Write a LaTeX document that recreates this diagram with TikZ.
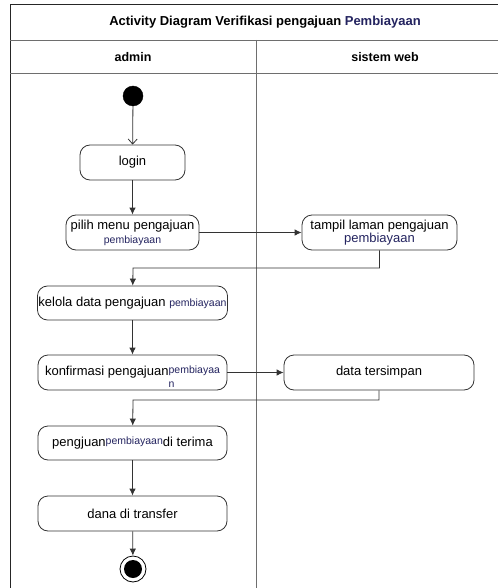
\documentclass[tikz,border=0pt]{standalone}
\usepackage{fontspec}
\setmainfont{Liberation Sans}
\usetikzlibrary{arrows.meta}
\usetikzlibrary{calc}

\definecolor{navytext}{RGB}{35,35,95}
\definecolor{lanegray}{RGB}{110,110,110}
\newcommand{\smalltxt}[1]{{\fontsize{10.5}{12}\selectfont\color{navytext}#1}}

\begin{document}
\begin{tikzpicture}
	[
	x=1pt, y=-1pt,
	> = {Latex[length=7pt,width=6.5pt]},
	every node/.style = {font=\fontsize{13}{15}\selectfont},
	act/.style = {draw=black!80, line width=0.8pt, rounded corners=10pt, minimum height=35pt, inner sep=1pt, align=center},
	startdot/.style = {draw,fill,circle,minimum size=20pt,inner sep=0pt},
	enddot/.style = {draw,line width=0.8pt,circle,minimum size=26pt,inner sep=0pt,
		path picture={\fill (path picture bounding box.center) circle (9pt);}},
	flow/.style = {->, draw=black!80, line width=0.8pt}
	]
	\useasboundingbox (0,0) rectangle (498,588);
	% swimlanes
	\draw[black!85, line width=0.9pt] (10,588) -- (10,4) -- (498,4);
	\draw[lanegray, line width=0.9pt] (10,40) -- (498,40);
	\draw[lanegray, line width=0.9pt] (10,73) -- (498,73);
	\draw[lanegray, line width=0.9pt] (256,40) -- (256,588);
	\node[font=\fontsize{13}{15}\selectfont\bfseries] (title) at (265,22) {Activity Diagram Verifikasi pengajuan {\color{navytext}Pembiayaan}};
	\node[font=\fontsize{12.5}{15}\selectfont\bfseries] (laneA) at (133,57) {admin};
	\node[font=\fontsize{12.5}{15}\selectfont\bfseries] (laneB) at (385,57) {sistem web};
	% activities
	\node[startdot] (start) at (133,96) {};
	\node[act, minimum width=105pt] (login) at (132.5,162.5) {login};
	\node[act, minimum width=133pt] (pilih) at (132.5,232.5) {pilih menu pengajuan\\[-1pt]\smalltxt{pembiayaan}};
	\node[act, minimum width=155pt] (tampil) at (379.5,232.5) {tampil laman pengajuan\\[-2pt]{\color{navytext}pembiayaan}};
	\node[act, minimum width=189pt, minimum height=34pt] (kelola) at (132.5,303) {kelola data pengajuan \smalltxt{pembiayaan}};
	\node[act, minimum width=189pt] (konfirmasi) at (132.5,372.5) {konfirmasi pengajuan\smash{\raisebox{2pt}{\smalltxt{\begin{tabular}[t]{@{}l@{}}pembiayaa\\[2pt]n\end{tabular}}}}};
	\node[act, minimum width=190pt] (tersimpan) at (379,372.5) {data tersimpan};
	\node[act, minimum width=189pt, minimum height=34pt] (pengjuan) at (132.5,443) {pengjuan\raisebox{1.5pt}{\smalltxt{pembiayaan}}di terima};
	\node[act, minimum width=189pt] (dana) at (132.5,513.5) {dana di transfer};
	\node[enddot] (end) at (133,569) {};
	\coordinate (bendA) at (133,268);
	\coordinate (bendB) at (133,400);
	% flows
	\draw[flow, -{Straight Barb[length=5pt,width=9pt]}] (start) -- (login);
	\draw[flow] (login) -- (pilih);
	\draw[flow] (pilih) -- (tampil);
	\draw[flow] (tampil.south) |- (bendA) -- (kelola);
	\draw[flow] (kelola) -- (konfirmasi);
	\draw[flow] (konfirmasi) -- (tersimpan);
	\draw[flow] (tersimpan.south) |- (bendB) -- (pengjuan);
	\draw[flow] (pengjuan) -- (dana);
	\draw[flow] (dana) -- (end);
\end{tikzpicture}
\end{document}
